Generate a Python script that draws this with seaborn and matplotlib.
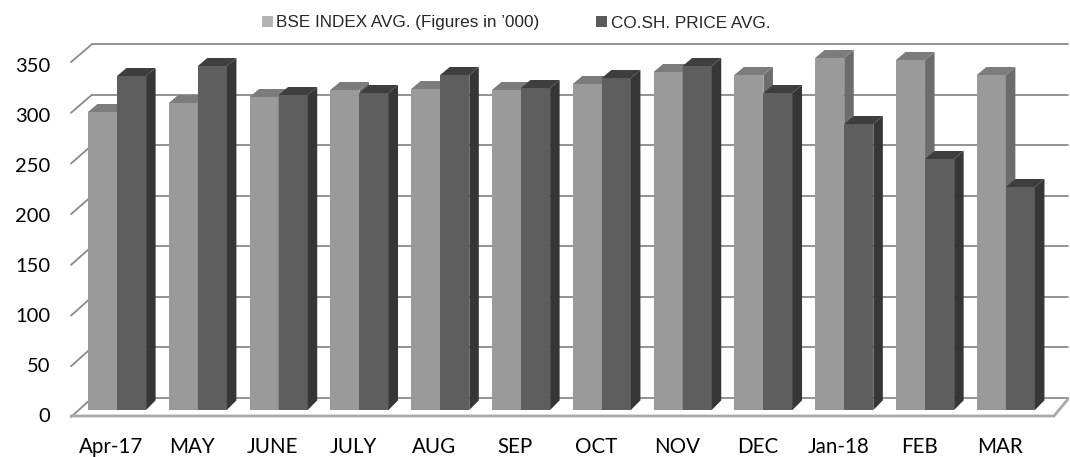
import matplotlib
matplotlib.use("Agg")
import matplotlib.pyplot as plt
import matplotlib.transforms as mtransforms
from matplotlib.lines import Line2D
from matplotlib.patches import Polygon, Patch
import seaborn as sns
import pandas as pd

months = ["Apr-17", "MAY", "JUNE", "JULY", "AUG", "SEP", "OCT", "NOV", "DEC", "Jan-18", "FEB", "MAR"]
bse_index = [298, 307, 313, 320, 321, 320, 326, 338, 335, 352, 350, 335]
share_price = [334, 344, 315, 317, 335, 322, 332, 344, 317, 286, 251, 223]
series_names = ["BSE INDEX AVG. (Figures in \u2019000)", "CO.SH. PRICE AVG."]
y_ticks = [0, 50, 100, 150, 200, 250, 300, 350]

front_colors = ["#9a9a9a", "#5e5e5e"]
top_colors = ["#7c7c7c", "#3e3e3e"]
side_colors = ["#6c6c6c", "#363636"]
legend_colors = ["#b3b3b3", "#5a5a5a"]

df = pd.DataFrame({
    "month": months * 2,
    "value": bse_index + share_price,
    "series": [series_names[0]] * len(months) + [series_names[1]] * len(months),
})

W, H = 1070, 457
sns.set_theme(style="white")
plt.rcParams["font.family"] = ["Lato", "DejaVu Sans"]
fig = plt.figure(figsize=(W / 100, H / 100), dpi=100)

ax_l, ax_r, ax_b, ax_t = 75, 1060, 410, 40
ax = fig.add_axes([ax_l / W, 1 - ax_b / H, (ax_r - ax_l) / W, (ax_b - ax_t) / H])
ax.set_facecolor("none")

sns.barplot(data=df, x="month", y="value", hue="series", order=months,
            hue_order=series_names, palette=front_colors, saturation=1,
            width=0.72, dodge=True, legend=False, ax=ax, zorder=3)

ax.set_xlim(-0.52, 11.67)
ax.set_ylim(0, 370)

px_per_cat = (ax_r - ax_l) / (11.67 + 0.52)
dx = 9.5 / px_per_cat
dy = 8.0

for i, cont in enumerate(ax.containers):
    for p in cont.patches:
        p.set_edgecolor("none")
        p.set_facecolor(front_colors[i])
        x0 = p.get_x()
        w = p.get_width()
        h = p.get_height()
        x1 = x0 + w
        side = Polygon([(x1, 0), (x1 + dx, dy * 1.2), (x1 + dx, h + dy), (x1, h)],
                       closed=True, facecolor=side_colors[i], edgecolor="none",
                       zorder=3 + i * 0.5 + 0.1)
        top = Polygon([(x0, h), (x0 + dx, h + dy), (x1 + dx, h + dy), (x1, h)],
                      closed=True, facecolor=top_colors[i], edgecolor="none",
                      zorder=3 + i * 0.5 + 0.1)
        p.set_zorder(3 + i * 0.5)
        ax.add_patch(side)
        ax.add_patch(top)

# axis labels
ax.set_xlabel("")
ax.set_ylabel("")
ax.set_yticks(y_ticks)
ax.set_yticklabels([str(v) for v in y_ticks])
ax.tick_params(axis="both", length=0, colors="black")
ax.tick_params(axis="y", pad=18, labelsize=14.5)
ax.tick_params(axis="x", pad=19.5, labelsize=14.8)
for s in ax.spines.values():
    s.set_visible(False)

off_y = mtransforms.ScaledTranslation(0, -5 / 100, fig.dpi_scale_trans)
for lab in ax.get_yticklabels():
    lab.set_transform(lab.get_transform() + off_y)
off_x = mtransforms.ScaledTranslation(-6 / 100, 0, fig.dpi_scale_trans)
for lab in ax.get_xticklabels():
    lab.set_transform(lab.get_transform() + off_x)

# back-wall gridlines, left depth strokes and floor (pixel geometry)
def P(x, y):
    return (x / W, 1 - y / H)

grid_c = "#8a8a8a"
for v in y_ticks:
    yb = 398 - 1.011 * v
    yf = 417 - 1.014 * v
    (xa, ya), (xb, yb2) = P(92, yb), P(1068, yb)
    fig.add_artist(Line2D([xa, xb], [ya, yb2], color=grid_c, lw=1.3, zorder=-1))
    (xa, ya), (xb, yb2) = P(71, yf), P(92, yb)
    fig.add_artist(Line2D([xa, xb], [ya, yb2], color=grid_c, lw=1.3, zorder=-1))

floor_c = "#a8a8a8"
pts = [P(71, 416), P(1054, 416), P(1068, 399)]
fig.add_artist(Line2D([p[0] for p in pts], [p[1] for p in pts], color=floor_c, lw=2.0, zorder=-1))

# legend
handles = [Patch(facecolor=legend_colors[i], edgecolor="none", label=series_names[i]) for i in range(2)]
fig.legend(handles=handles, loc="center", bbox_to_anchor=(516 / W, 1 - 23 / H), ncol=2,
           frameon=False, handlelength=0.65, handleheight=0.65, handletextpad=0.2,
           columnspacing=3.3, borderaxespad=0,
           prop={"family": ["Liberation Sans", "DejaVu Sans"], "size": 12.3})

fig.savefig("out.png", dpi=100)
